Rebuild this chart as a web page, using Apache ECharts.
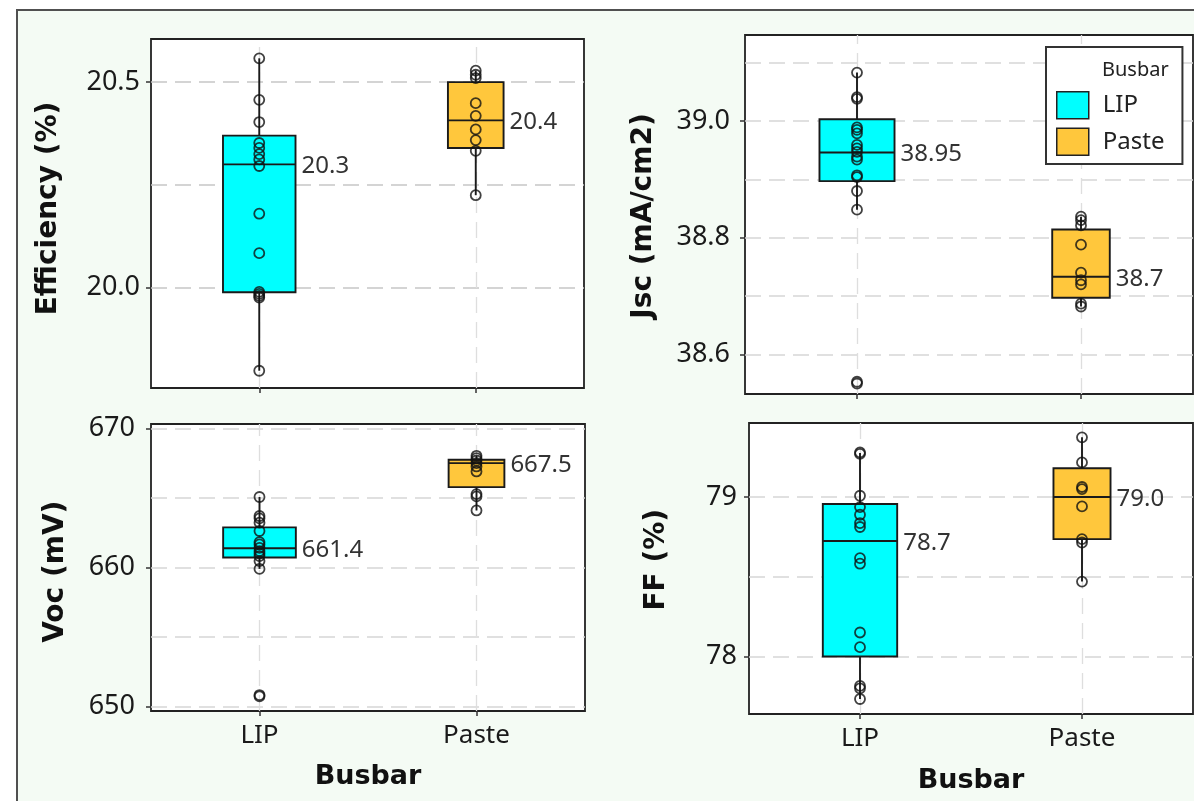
<!DOCTYPE html>
<html>
<head>
<meta charset="utf-8">
<script src="https://cdn.jsdelivr.net/npm/echarts@6/dist/echarts.min.js"></script>
<style>
html, body { margin: 0; padding: 0; background: #fff; }
#main { width: 1194px; height: 801px; }
</style>
</head>
<body>
<div id="main"></div>
<script>
var busbar = ['LIP', 'Paste'];

// Efficiency (%)
var effLIP = [20.558, 20.457, 20.403, 20.352, 20.340, 20.325, 20.312, 20.296, 20.180, 20.084, 19.990, 19.985, 19.980, 19.976, 19.798];
var effPaste = [20.528, 20.518, 20.510, 20.449, 20.418, 20.385, 20.359, 20.333, 20.225];
var effBox = [[19.798, 19.989, 20.300, 20.370, 20.558], [20.225, 20.340, 20.407, 20.500, 20.528]]; // min, q1, median, q3, max
var effLabels = ['20.3', '20.4'];
var effTicks = [20.0, 20.5];
var effMinor = [20.25];

// Jsc (mA/cm2)
var jscLIP = [39.083, 39.041, 39.038, 38.989, 38.985, 38.979, 38.959, 38.953, 38.947, 38.939, 38.934, 38.907, 38.904, 38.880, 38.848, 38.553, 38.550];
var jscPaste = [38.836, 38.830, 38.821, 38.788, 38.740, 38.727, 38.720, 38.687, 38.682];
var jscBox = [[38.848, 38.897, 38.946, 39.003, 39.083], [38.682, 38.697, 38.733, 38.814, 38.836]];
var jscLabels = ['38.95', '38.7'];
var jscTicks = [38.6, 38.8, 39.0];
var jscMinor = [38.7, 38.9, 39.1];

// Voc (mV)
var vocLIP = [665.08, 663.71, 663.54, 663.23, 662.63, 661.83, 661.66, 661.42, 661.18, 661.01, 660.82, 660.46, 659.90, 650.81, 650.72];
var vocPaste = [668.05, 667.88, 667.71, 667.52, 667.28, 666.92, 665.29, 665.12, 664.11];
var vocBox = [[659.90, 660.72, 661.39, 662.89, 665.08], [664.11, 665.79, 667.52, 667.76, 668.05]];
var vocLabels = ['661.4', '667.5'];
var vocTicks = [650, 660, 670];
var vocMinor = [655, 665];

// FF (%)
var ffLIP = [79.280, 79.270, 79.008, 78.937, 78.889, 78.837, 78.812, 78.617, 78.582, 78.151, 78.059, 77.816, 77.801, 77.734];
var ffPaste = [79.374, 79.217, 79.063, 79.050, 78.941, 78.736, 78.715, 78.470];
var ffBox = [[77.734, 78.000, 78.724, 78.956, 79.276], [78.470, 78.736, 79.000, 79.180, 79.374]];
var ffLabels = ['78.7', '79.0'];
var ffTicks = [78, 79];
var ffMinor = [78.5];

var colors = {LIP: '#00FFFF', Paste: '#FFC73C'};
var boxFrac = [0.335, 0.257];

var panels = [
    {title: 'Efficiency (%)', lip: effLIP, paste: effPaste, box: effBox, labels: effLabels, ticks: effTicks, minor: effMinor,
     grid: {left: 151, top: 39, width: 433, height: 349}, min: 19.756, max: 20.605, dec: 1, margin: 11,
     titlePos: [49, 208.5], bottom: false, gridColor: '#c6c6c6'},
    {title: 'Jsc (mA/cm2)', lip: jscLIP, paste: jscPaste, box: jscBox, labels: jscLabels, ticks: jscTicks, minor: jscMinor,
     grid: {left: 745, top: 35, width: 448, height: 359}, min: 38.532, max: 39.1475, dec: 1, margin: 15,
     titlePos: [644, 216], bottom: false, gridColor: '#d6d6d6'},
    {title: 'Voc (mV)', lip: vocLIP, paste: vocPaste, box: vocBox, labels: vocLabels, ticks: vocTicks, minor: vocMinor,
     grid: {left: 151, top: 424, width: 434, height: 287}, min: 649.66, max: 670.34, dec: 0, margin: 16,
     titlePos: [55.5, 571.7], bottom: true, xTitle: [368, 777], gridColor: '#d6d6d6'},
    {title: 'FF (%)', lip: ffLIP, paste: ffPaste, box: ffBox, labels: ffLabels, ticks: ffTicks, minor: ffMinor,
     grid: {left: 749, top: 423, width: 444, height: 291}, min: 77.64, max: 79.464, dec: 0, margin: 12,
     titlePos: [656.5, 559.7], bottom: true, xTitle: [971, 781], gridColor: '#d6d6d6'}
];

function renderBox(labels) {
    return function (params, api) {
        var idx = api.value(0);
        var pMin = api.coord([idx, api.value(1)]);
        var pQ1 = api.coord([idx, api.value(2)]);
        var pMed = api.coord([idx, api.value(3)]);
        var pQ3 = api.coord([idx, api.value(4)]);
        var pMax = api.coord([idx, api.value(5)]);
        var half = api.size([1, 0])[0] * boxFrac[idx] / 2;
        var x = pMed[0];
        var ink = {stroke: '#1a1a1a', lineWidth: 1.9};
        return {
            type: 'group',
            children: [
                {type: 'line', shape: {x1: x, y1: pMin[1], x2: x, y2: pQ1[1]}, style: ink},
                {type: 'line', shape: {x1: x, y1: pQ3[1], x2: x, y2: pMax[1]}, style: ink},
                {type: 'rect', shape: {x: x - half, y: pQ3[1], width: 2 * half, height: pQ1[1] - pQ3[1]},
                 style: {fill: api.visual('color'), stroke: '#1a1a1a', lineWidth: 1.9}},
                {type: 'line', shape: {x1: x - half, y1: pMed[1], x2: x + half, y2: pMed[1]}, style: ink},
                {type: 'text', style: {x: x + half + 6, y: pMed[1] + 2, text: labels[idx], fill: '#333',
                 font: '24px "Noto Sans"', textAlign: 'left', textVerticalAlign: 'middle'}}
            ]
        };
    };
}

var grids = [], xAxes = [], yAxes = [], series = [], graphics = [];

graphics.push({type: 'rect', z: -10, silent: true, shape: {x: 17, y: 10, width: 1300, height: 900},
    style: {fill: '#f4fbf4', stroke: '#505050', lineWidth: 2}});

panels.forEach(function (p, i) {
    grids.push({left: p.grid.left, top: p.grid.top, width: p.grid.width, height: p.grid.height,
        show: true, backgroundColor: '#fff', borderColor: '#222', borderWidth: 1.8, outerBoundsMode: 'none'});
    xAxes.push({
        type: 'category', gridIndex: i, data: busbar, boundaryGap: true,
        axisLine: {show: false},
        axisTick: {show: true, alignWithLabel: true, length: 5, lineStyle: {color: '#333', width: 1.5}},
        axisLabel: {show: p.bottom, fontSize: 26, fontFamily: 'Noto Sans', color: '#1a1a1a', margin: 12},
        splitLine: {show: false}
    });
    yAxes.push({
        type: 'value', gridIndex: i, min: p.min, max: p.max,
        axisLine: {show: false},
        splitLine: {show: false},
        axisTick: {show: true, length: 5, customValues: p.ticks, lineStyle: {color: '#333', width: 1.5}},
        axisLabel: {customValues: p.ticks, fontSize: 27, fontFamily: 'Noto Sans', color: '#1a1a1a', margin: p.margin,
            formatter: (function (d) { return function (v) { return v.toFixed(d); }; })(p.dec)}
    });

    var hStyle = {color: p.gridColor, type: [16, 8], width: 1.7};
    var vStyle = {color: '#dedede', type: [16, 9], width: 1.3};
    var lines = [];
    p.ticks.concat(p.minor).forEach(function (v) { lines.push({yAxis: v, lineStyle: hStyle}); });
    busbar.forEach(function (c) { lines.push({xAxis: c, lineStyle: vStyle}); });

    busbar.forEach(function (c, k) {
        series.push({
            type: 'custom', name: c, xAxisIndex: i, yAxisIndex: i, z: 2,
            itemStyle: {color: colors[c]},
            renderItem: renderBox(p.labels),
            encode: {x: 0, y: [1, 2, 3, 4, 5]},
            data: [[k].concat(p.box[k])]
        });
    });

    var pts = p.lip.map(function (v) { return ['LIP', v]; })
        .concat(p.paste.map(function (v) { return ['Paste', v]; }));
    series.push({
        type: 'scatter', name: 'points', xAxisIndex: i, yAxisIndex: i, z: 3, silent: true,
        symbol: 'circle', symbolSize: 10,
        itemStyle: {color: 'rgba(0,0,0,0)', borderColor: '#111', borderWidth: 1.8},
        data: pts,
        markLine: {silent: true, z: 1, symbol: ['none', 'none'], label: {show: false},
            emphasis: {disabled: true}, animation: false, data: lines}
    });

    graphics.push({type: 'text', x: p.titlePos[0], y: p.titlePos[1], rotation: Math.PI / 2, silent: true,
        style: {text: p.title, fill: '#111', font: 'bold 28px "DejaVu Sans"', textAlign: 'center', textVerticalAlign: 'middle'}});
    if (p.xTitle) {
        graphics.push({type: 'text', x: p.xTitle[0], y: p.xTitle[1], silent: true,
            style: {text: 'Busbar', fill: '#111', font: 'bold 27px "DejaVu Sans"', textAlign: 'center', textVerticalAlign: 'middle'}});
    }
});

graphics.push({type: 'text', x: 1102, y: 70, z: 10, silent: true,
    style: {text: 'Busbar', fill: '#222', font: '20px "Noto Sans"', textAlign: 'left', textVerticalAlign: 'middle'}});

var chart = echarts.init(document.getElementById('main'));
chart.setOption({
    animation: false,
    backgroundColor: '#fff',
    grid: grids,
    xAxis: xAxes,
    yAxis: yAxes,
    legend: {
        data: busbar, orient: 'vertical', left: 1046, top: 47,
        padding: [44, 18, 8, 10], itemWidth: 32, itemHeight: 27, itemGap: 8,
        icon: 'rect', backgroundColor: '#fff', borderColor: '#333', borderWidth: 2,
        itemStyle: {borderColor: '#222', borderWidth: 1.5},
        textStyle: {fontSize: 24, fontFamily: 'Noto Sans', color: '#222', padding: [0, 0, 0, 9]},
        selectedMode: false
    },
    graphic: graphics,
    series: series
});
window.onresize = chart.resize;
</script>
</body>
</html>
